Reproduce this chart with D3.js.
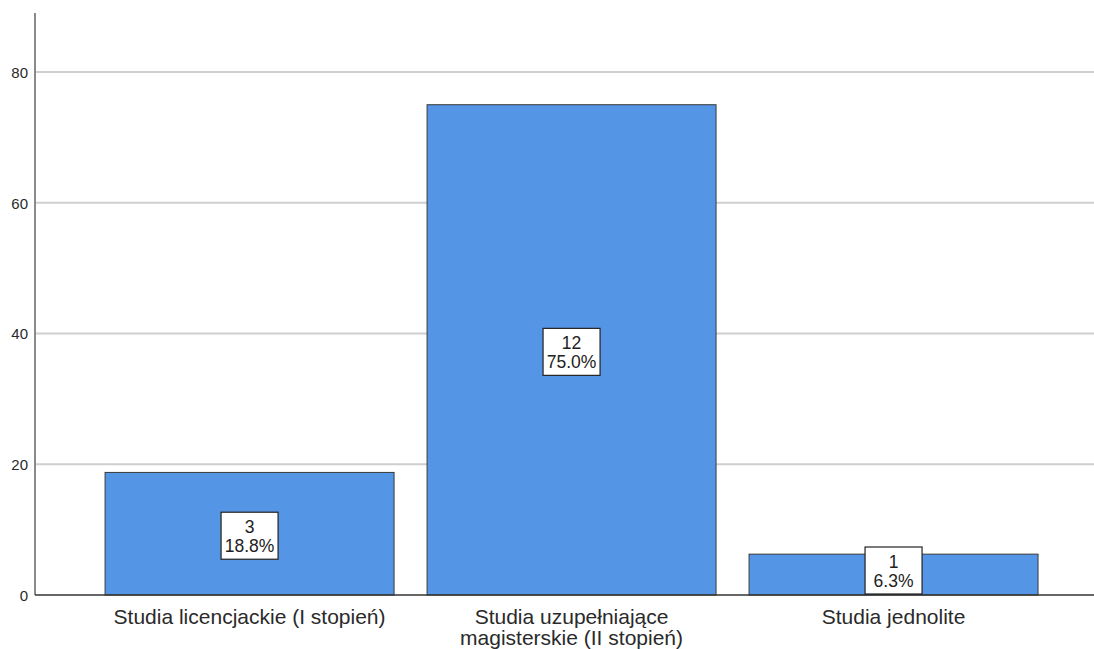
<!DOCTYPE html>
<html><head><meta charset="utf-8">
<script src="https://cdn.jsdelivr.net/npm/d3@7"></script>
<style>body{margin:0;background:#fff}svg{display:block;font-family:"Liberation Sans",Arial,sans-serif}</style>
</head><body><svg id="c" width="1094" height="649"></svg>
<script>
const categories = ["Studia licencjackie (I stopień)", "Studia uzupełniające magisterskie (II stopień)", "Studia jednolite"];
const categoryLines = [["Studia licencjackie (I stopień)"], ["Studia uzupełniające", "magisterskie (II stopień)"], ["Studia jednolite"]];
const counts = [3, 12, 1];
const percents = [18.75, 75.0, 6.25];
const percentLabels = ["18.8%", "75.0%", "6.3%"];
const yTicks = [0, 20, 40, 60, 80];

const svg = d3.select("#c");
const x0 = 35, x1 = 1094, yBase = 595, yTop = 13;
const y = d3.scaleLinear().domain([0, 89.03]).range([yBase, yTop]);
const x = d3.scaleBand().domain(categories).range([x0, x1]).paddingInner(0.1025).paddingOuter(0.1957).align(0.556);

// gridlines
svg.append("g").selectAll("line").data(yTicks.filter(d => d > 0)).join("line")
  .attr("x1", x0).attr("x2", x1).attr("y1", d => y(d)).attr("y2", d => y(d))
  .attr("stroke", "#cfcfcf").attr("stroke-width", 2);

// y axis
const yAxis = d3.axisLeft(y).tickValues(yTicks).tickSize(0).tickPadding(7);
const ga = svg.append("g").attr("transform", `translate(${x0},0)`).call(yAxis);
ga.select(".domain").remove();
ga.selectAll("text").attr("font-size", 15).attr("fill", "#2a2a2a").attr("dy", "0.36em").attr("font-family", "Liberation Sans, Arial, sans-serif");
svg.append("line").attr("x1", x0).attr("x2", x0).attr("y1", yTop).attr("y2", yBase).attr("stroke", "#8a8a8a").attr("stroke-width", 2);

// bars
const data = categories.map((c, i) => ({c, v: percents[i], n: counts[i], p: percentLabels[i], lines: categoryLines[i]}));
svg.append("g").selectAll("rect").data(data).join("rect")
  .attr("x", d => x(d.c)).attr("width", x.bandwidth())
  .attr("y", d => y(d.v)).attr("height", d => y(0) - y(d.v))
  .attr("fill", "#5595e5").attr("stroke", "#3a3a3a").attr("stroke-width", 1);

// x axis line
svg.append("line").attr("x1", x0).attr("x2", x1).attr("y1", yBase).attr("y2", yBase).attr("stroke", "#333").attr("stroke-width", 1.5);

// x labels
const xl = svg.append("g").selectAll("text").data(data).join("text")
  .attr("x", d => x(d.c) + x.bandwidth() / 2).attr("y", 624)
  .attr("text-anchor", "middle").attr("font-size", 21).attr("fill", "#2a2a2a");
xl.selectAll("tspan").data(d => d.lines).join("tspan")
  .attr("x", function() { return d3.select(this.parentNode).attr("x"); })
  .attr("dy", (d, i) => i === 0 ? 0 : 21).text(d => d);

// value labels
const bw = 57, bh = 47;
const lg = svg.append("g").selectAll("g").data(data).join("g")
  .attr("transform", d => {
    const cx = x(d.c) + x.bandwidth() / 2;
    let cy = (y(d.v) + y(0)) / 2 + 2;
    cy = Math.min(cy, yBase - bh / 2 - 1);
    return `translate(${cx},${cy})`;
  });
lg.append("rect").attr("x", -bw / 2).attr("y", -bh / 2).attr("width", bw).attr("height", bh)
  .attr("fill", "#fff").attr("stroke", "#222").attr("stroke-width", 1.2);
lg.append("text").attr("y", -2.5).attr("text-anchor", "middle").attr("font-size", 17.5).attr("fill", "#222").text(d => d.n);
lg.append("text").attr("y", 16.5).attr("text-anchor", "middle").attr("font-size", 17.5).attr("fill", "#222").text(d => d.p);
</script></body></html>
